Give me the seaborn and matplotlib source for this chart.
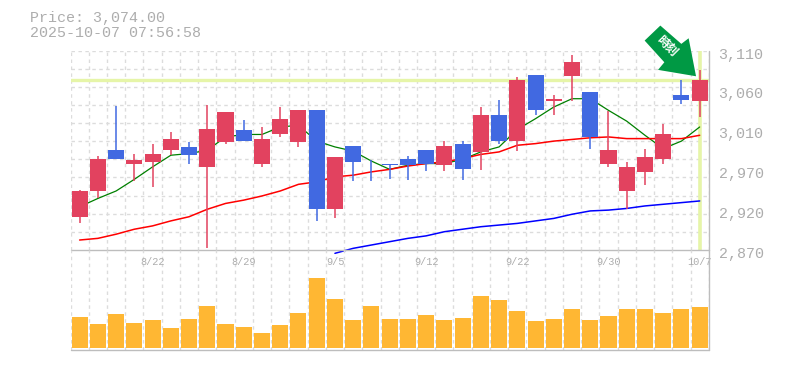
import numpy as np
import pandas as pd
import matplotlib
matplotlib.use("Agg")
import matplotlib.pyplot as plt
from matplotlib.patches import Polygon
from matplotlib.transforms import ScaledTranslation
import seaborn as sns

# daily candles, oldest first
opens = [2910, 2941, 2990, 2974, 2976, 2990, 2994, 2970, 3000, 3014, 2974, 3009,
         3000, 3038, 2919, 2995, 2974, 2974, 2980, 2990, 2972, 2998, 2988, 3032,
         3001, 3080, 3049, 3079, 3060, 2974, 2941, 2964, 2980, 3056, 3049]
closes = [2941, 2979, 2979, 2978, 2986, 3003, 2984, 3016, 3036, 3001, 3004, 3027,
          3038, 2919, 2982, 2976, 2973, 2972, 2972, 2974, 2995, 2968, 3032, 3001,
          3074, 3039, 3052, 3096, 3006, 2990, 2970, 2982, 3010, 3050, 3074]
highs = [2942, 2983, 3043, 2985, 2998, 3012, 3000, 3044, 3036, 3026, 3018, 3042,
         3038, 3039, 2982, 2995, 2978, 2974, 2983, 2990, 3001, 3001, 3042, 3050,
         3078, 3080, 3056, 3105, 3060, 3037, 2976, 2992, 3022, 3074, 3087]
lows = [2902, 2932, 2979, 2953, 2946, 2984, 2973, 2872, 2998, 3001, 2970, 3006,
        2994, 2905, 2908, 2953, 2953, 2956, 2954, 2965, 2965, 2954, 2966, 2998,
        2989, 3033, 3032, 3049, 2992, 2970, 2919, 2948, 2973, 3046, 3030]

ma_short = [2922, 2932, 2941, 2955, 2970, 2984, 2986, 2990, 3006, 3009, 3009, 3018,
            3020, 3001, 2994, 2989, 2977, 2967, 2972, 2974, 2974, 2979, 2988, 2994,
            3015, 3028, 3042, 3052, 3052, 3038, 3025, 3008, 2992, 3001, 3018]
ma_mid = [2882, 2884, 2889, 2895, 2899, 2905, 2910, 2919, 2926, 2930, 2935, 2941,
          2949, 2952, 2958, 2960, 2964, 2967, 2971, 2974, 2976, 2980, 2985, 2988,
          2996, 2998, 3001, 3003, 3005, 3006, 3004, 3004, 3004, 3004, 3008]
ma_long = [np.nan] * 14 + [2866, 2872, 2876, 2880, 2884, 2887, 2892, 2895, 2898, 2900,
                           2902, 2905, 2908, 2913, 2917, 2918, 2920, 2923, 2925, 2927, 2929]

# volume has no printed scale, relative units
volume = [32, 25, 35, 26, 29, 20, 30, 43, 25, 21, 15, 24, 36, 71, 50, 29, 43, 30,
          30, 34, 29, 31, 53, 49, 38, 28, 30, 40, 29, 33, 40, 40, 36, 40, 42]

tick_idx = [4, 9, 14, 19, 24, 29, 34]
tick_labels = ["8/22", "8/29", "9/5", "9/12", "9/22", "9/30", "10/7"]
price_ticks = [3110, 3062, 3014, 2966, 2918, 2870]
price_labels = ["3,110", "3,060", "3,010", "2,970", "2,920", "2,870"]
last_price = 3074

GRID = "#dcdcdc"
AXIS = "#bdbdbd"
TEXT = "#adadad"
UP = "#e2425f"
DOWN = "#4169e1"
HILITE = "#e6f5a8"

sns.set_theme(style="white")
plt.rcParams["font.family"] = ["Liberation Mono", "Noto Sans CJK JP", "DejaVu Sans"]

df = pd.DataFrame({"i": np.arange(len(opens)), "open": opens, "close": closes, "high": highs, "low": lows,
                   "ma_short": ma_short, "ma_mid": ma_mid, "ma_long": ma_long, "volume": volume})

W, H = 785, 370
L, R, T, M, B = 70.5, 708.8, 50.5, 250.0, 349.5
fig = plt.figure(figsize=(W / 100, H / 100), dpi=100, facecolor="white")
ax = fig.add_axes([L / W, 1 - M / H, (R - L) / W, (M - T) / H])
ax_vol = fig.add_axes([L / W, 1 - B / H, (R - L) / W, (B - M) / H])

for a in (ax, ax_vol):
    a.set_xlim(-0.5, len(df) - 0.5)
    a.patch.set_alpha(0)
    for s in a.spines.values():
        s.set_visible(False)
    a.set_axisbelow(True)
    for v in np.arange(len(df) + 1) - 0.5:
        a.axvline(v, color=GRID, lw=1, ls=(0, (2.5, 2.5)), zorder=0)

# price panel
ax.set_ylim(2870, 3110)
for v in np.arange(1, 11) * 240 / 11 + 2870:
    ax.axhline(v, color=GRID, lw=1, ls=(0, (2.5, 2.5)), zorder=0)
ax.axhline(3110, color=GRID, lw=1, ls=(0, (2.5, 2.5)), zorder=0)

ax.axhline(last_price, color=HILITE, lw=2.4, zorder=1)
ax.axvline(34, color=HILITE, lw=2.6, zorder=1)

sns.lineplot(data=df, x="i", y="ma_short", color="#008000", lw=0.9, ax=ax, zorder=2)
sns.lineplot(data=df, x="i", y="ma_mid", color="#ff0000", lw=1.1, ax=ax, zorder=2)
sns.lineplot(data=df, x="i", y="ma_long", color="#0000ff", lw=1.1, ax=ax, zorder=2, clip_on=False)

colors = [UP if c >= o else DOWN for o, c in zip(df["open"], df["close"])]
ax.vlines(df["i"], df["low"], df["high"], colors=colors, lw=1.1, zorder=3)
ax.bar(df["i"], (df["close"] - df["open"]).abs(), bottom=df[["open", "close"]].min(axis=1),
       width=0.88, color=colors, lw=0, zorder=4)

ax.set_xlabel("")
ax.set_ylabel("")
ax.set_xticks([])
ax.yaxis.tick_right()
ax.set_yticks(price_ticks)
ax.set_yticklabels(price_labels, fontsize=10.8, color=TEXT)
ax.tick_params(axis="y", length=0, pad=7)
# price labels sit a little under their level in the original
shift = ScaledTranslation(0, -4 / 100, fig.dpi_scale_trans)
for lab in ax.get_yticklabels():
    lab.set_verticalalignment("center")
    lab.set_transform(lab.get_transform() + shift)

# green marker pointing at the latest candle, outline in inches from its tip
tip = (33.8, last_price + 5)
outline = np.array([(-35.7, 50.7), (-51.4, 35.7), (-31.7, 14), (-38, 6.4), (0, 0),
                    (-7.4, 38), (-14.7, 32.4)]) / 100
arrow_tf = fig.dpi_scale_trans + ScaledTranslation(tip[0], tip[1], ax.transData)
ax.add_patch(Polygon(outline, closed=True, transform=arrow_tf, facecolor="#009944", lw=0,
                     clip_on=False, zorder=6))
ax.annotate("時刻", xy=tip, xytext=(-21.2, 21.2), textcoords="offset points",
            rotation=-45, rotation_mode="anchor", ha="center", va="center",
            fontsize=8.6, fontweight="bold", color="white", zorder=7, annotation_clip=False)

# volume panel
sns.barplot(data=df, x="i", y="volume", color="#ffb733", saturation=1, width=0.88,
            order=df["i"].tolist(), ax=ax_vol, lw=0, zorder=3)
ax_vol.set_xlim(-0.5, len(df) - 0.5)
ax_vol.set_ylim(-1.5, 100)
ax_vol.set_xlabel("")
ax_vol.set_ylabel("")
ax_vol.set_yticks([])
ax_vol.xaxis.tick_top()
ax_vol.set_xticks(tick_idx)
ax_vol.set_xticklabels(tick_labels, fontsize=7.4, color=TEXT)
ax_vol.tick_params(axis="x", length=0, pad=-12.5)

# frame lines
ax.axhline(2870, color=AXIS, lw=1, zorder=5, clip_on=False)
ax_vol.axhline(-1.5, color=AXIS, lw=1, zorder=5, clip_on=False)
ax.axvline(len(df) - 0.5, color=AXIS, lw=1, zorder=5, clip_on=False)
ax_vol.axvline(len(df) - 0.5, color=AXIS, lw=1, zorder=5, clip_on=False)

fig.text(30 / W, 1 - 18 / H, "Price: 3,074.00", fontsize=10.8, color=TEXT, va="center", ha="left")
fig.text(30 / W, 1 - 33 / H, "2025-10-07 07:56:58", fontsize=10.8, color=TEXT, va="center", ha="left")

fig.savefig("out.png", dpi=100)
